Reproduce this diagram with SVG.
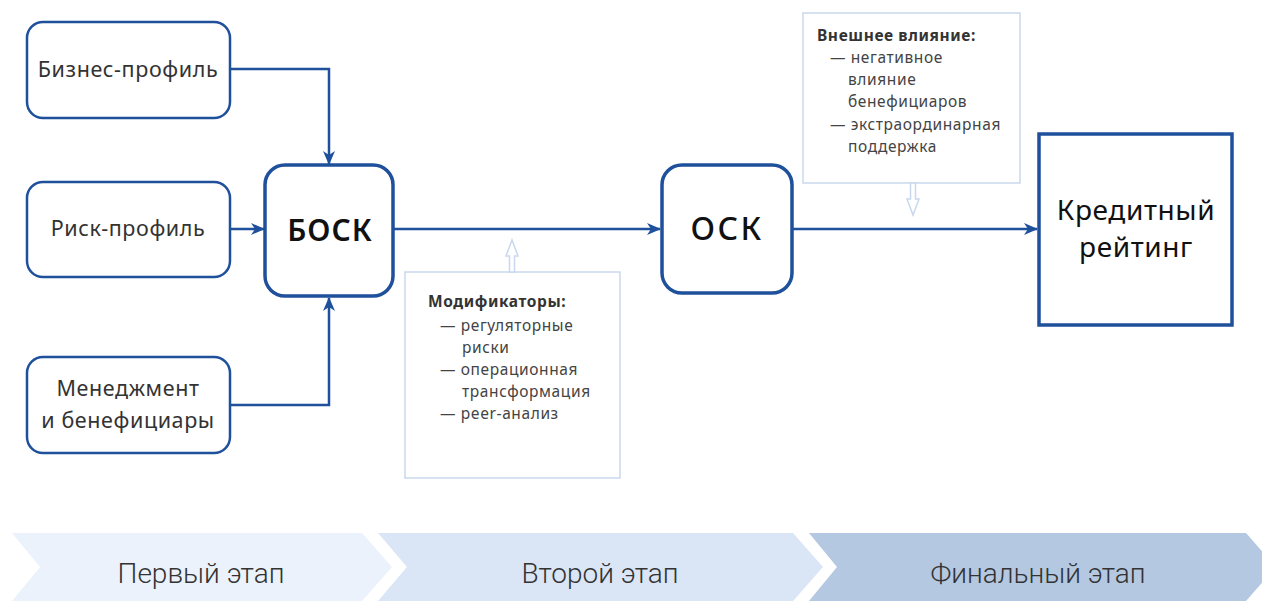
<svg xmlns="http://www.w3.org/2000/svg" width="1262" height="601" viewBox="0 0 1262 601">
<style>
.in{fill:#fff;stroke:#1f509c;stroke-width:2.5}
.big{fill:#fff;stroke:#1f509c;stroke-width:3.5}
.note{fill:#fff;stroke:#c9d8ee;stroke-width:1.5}
.con{fill:none;stroke:#1f509c;stroke-width:2.5}
.t{font-family:"Noto Sans","Open Sans",sans-serif;fill:#333;font-size:21.5px;letter-spacing:0.6px}
.b{font-family:"Noto Sans","Open Sans",sans-serif;fill:#111;font-size:30px;font-weight:600;letter-spacing:1px}
.n{font-family:"Noto Sans","Open Sans",sans-serif;fill:#444;font-size:15.5px;letter-spacing:0.6px}
.nb{font-weight:700;fill:#333}
.s{font-family:Roboto,"Noto Sans",sans-serif;fill:#333;font-size:28px;font-weight:300}
</style>
<defs>
<marker id="ah" viewBox="0 0 14 12" refX="13" refY="6" markerWidth="14" markerHeight="12" markerUnits="userSpaceOnUse" orient="auto">
<path d="M0,0 L14,6 L0,12 L4,6 z" fill="#1f509c"/>
</marker>
</defs>
<rect width="1262" height="601" fill="#fff"/>

<g id="stages">
<polygon points="12,533 362,533 392,567 362,601 12,601 40,567" fill="#ebf2fb"/>
<polygon points="378,533 793,533 823,567 793,601 378,601 407,567" fill="#dae6f6"/>
<polygon points="809,533 1246,533 1276,567 1246,601 809,601 837,567" fill="#b4c8e1"/>
<text class="s" x="201" y="583" text-anchor="middle">Первый этап</text>
<text class="s" x="600" y="583" text-anchor="middle">Второй этап</text>
<text class="s" x="1038" y="583" text-anchor="middle">Финальный этап</text>
</g>

<g id="connectors">
<polyline class="con" points="230,69 329,69 329,164" marker-end="url(#ah)"/>
<polyline class="con" points="230,229 264,229" marker-end="url(#ah)"/>
<polyline class="con" points="230,405 329,405 329,298" marker-end="url(#ah)"/>
<polyline class="con" points="393,229 660,229" marker-end="url(#ah)"/>
<polyline class="con" points="792,229 1037,229" marker-end="url(#ah)"/>
</g>

<g id="business">
<rect class="in" x="27" y="22" width="203" height="96" rx="16"/>
<text class="t" x="128" y="77" text-anchor="middle">Бизнес-профиль</text>
</g>
<g id="risk">
<rect class="in" x="27" y="182" width="203" height="95" rx="16"/>
<text class="t" x="128" y="236" text-anchor="middle">Риск-профиль</text>
</g>
<g id="management">
<rect class="in" x="27" y="357" width="203" height="96" rx="16"/>
<text class="t" x="128" y="396" text-anchor="middle">Менеджмент</text>
<text class="t" x="128" y="428" text-anchor="middle">и бенефициары</text>
</g>
<g id="bosk">
<rect class="big" x="265" y="165" width="128" height="131" rx="20"/>
<text class="b" x="330" y="241" text-anchor="middle">БОСК</text>
</g>
<g id="osk">
<rect class="big" x="662" y="165" width="130" height="128" rx="20"/>
<text class="b" x="727" y="240" text-anchor="middle" style="font-weight:500;font-size:32px;letter-spacing:2.5px">ОСК</text>
</g>
<g id="rating">
<rect class="big" x="1039" y="134" width="193" height="191"/>
<text class="t" x="1136" y="220" text-anchor="middle" style="font-size:28px;fill:#111">Кредитный</text>
<text class="t" x="1136" y="257" text-anchor="middle" style="font-size:28px;fill:#111">рейтинг</text>
</g>

<g id="modifiers">
<rect class="note" x="405" y="272" width="215" height="206"/>
<polygon class="note" points="512,240 518,256 514.5,256 514.5,272 509.5,272 509.5,256 506,256"/>
<text class="n nb" x="428" y="307">Модификаторы:</text>
<text class="n" x="440" y="331">— регуляторные</text>
<text class="n" x="462" y="353">риски</text>
<text class="n" x="440" y="375">— операционная</text>
<text class="n" x="462" y="397">трансформация</text>
<text class="n" x="440" y="419">— peer-анализ</text>
</g>

<g id="external">
<rect class="note" x="803" y="13" width="217" height="170"/>
<polygon class="note" points="910.5,183 915.5,183 915.5,199 919,199 913,215 907,199 910.5,199"/>
<text class="n nb" x="817" y="41">Внешнее влияние:</text>
<text class="n" x="830" y="63">— негативное</text>
<text class="n" x="848" y="85">влияние</text>
<text class="n" x="848" y="107">бенефициаров</text>
<text class="n" x="830" y="130">— экстраординарная</text>
<text class="n" x="848" y="152">поддержка</text>
</g>
</svg>
